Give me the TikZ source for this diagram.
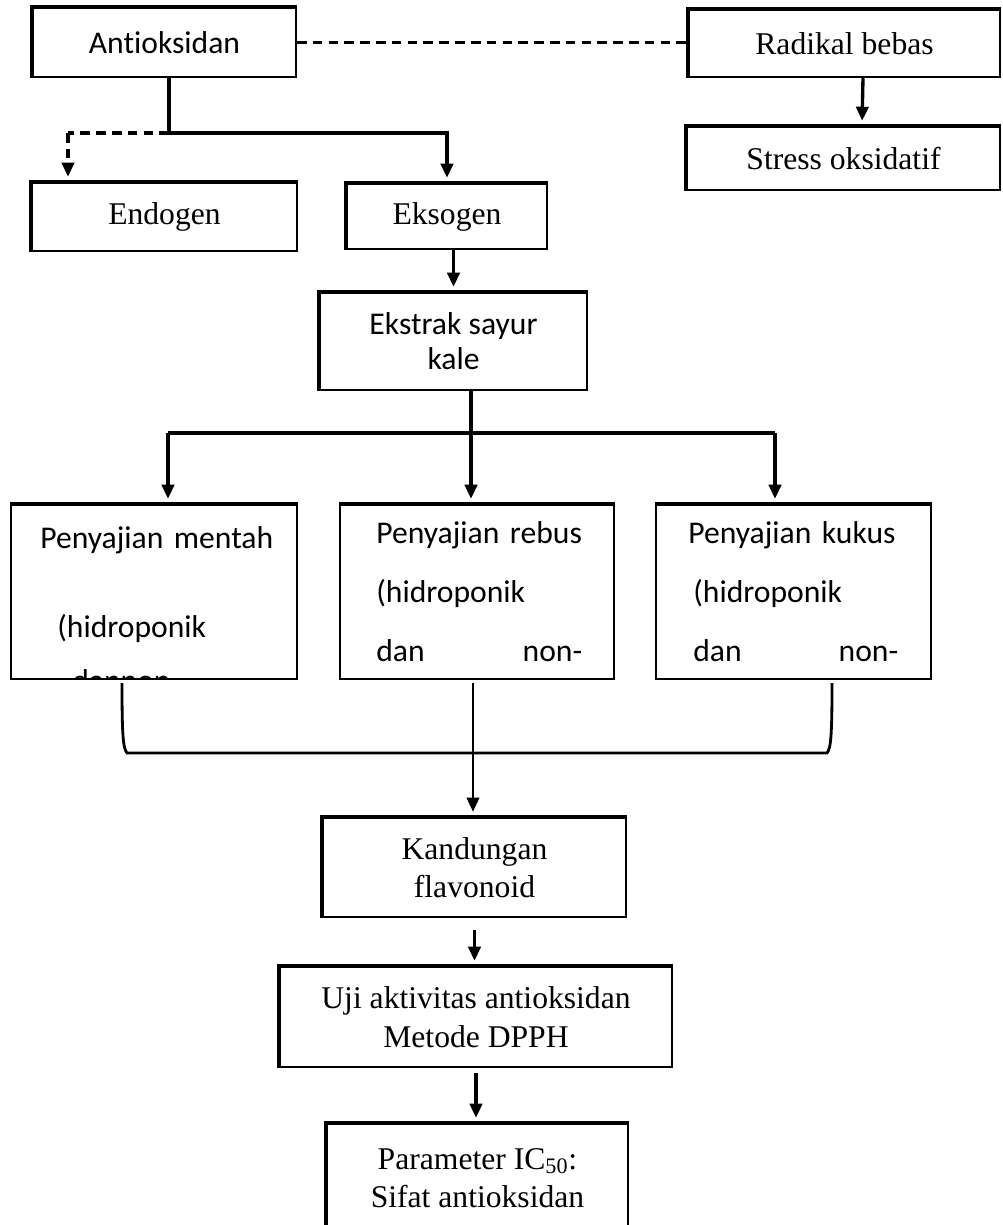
\documentclass[tikz,border=0pt]{standalone}
\usepackage{fontspec}
\setmainfont{Liberation Serif}
\newfontfamily\calibri[Ligatures=NoCommon]{Carlito}
\usetikzlibrary{arrows.meta}

\begin{document}
\begin{tikzpicture}[x=0.02cm,y=-0.02cm,
		kotak/.style={draw, line width=1.1pt, inner sep=0pt, align=center, font=\fontsize{18}{22}\selectfont,
			append after command={\pgfextra{\draw[line width=2.4pt] (\tikzlastnode.south west) -- (\tikzlastnode.north west) -- (\tikzlastnode.north east);}}},
		kotakatas/.style={draw, line width=1.1pt, inner sep=0pt,
			append after command={\pgfextra{\draw[line width=2.4pt] (\tikzlastnode.north west) -- (\tikzlastnode.north east);}}},
		isi/.style={anchor=north west, inner sep=0pt, align=left, font=\calibri\fontsize{18}{22}\selectfont},
		garis/.style={line width=1.9pt},
		putus/.style={line width=1.8pt, dash pattern=on 5.5pt off 3.5pt},
		panah/.style={-{Triangle[width=7pt,length=8pt]}, shorten >=3pt}]
		    	\clip (0,0) rectangle (1003,1225);
		    	\node[kotak, minimum width=5.26cm, minimum height=1.38cm, font=\calibri\fontsize{18}{22}\selectfont] (anti) at (164.5,42.5) {Antioksidan};
		    	\node[kotak, minimum width=6.22cm, minimum height=1.34cm] (radikal) at (844.5,43.5) {Radikal bebas};
		    	\node[kotak, minimum width=6.26cm, minimum height=1.26cm] (stress) at (843.5,158.5) {Stress oksidatif};
		    	\node[kotak, minimum width=5.3cm, minimum height=1.36cm] (endogen) at (164.5,217) {Endogen};
		    	\node[kotak, minimum width=4cm, minimum height=1.3cm] (eksogen) at (447,216.5) {Eksogen};
		    	\node[kotak, minimum width=5.34cm, minimum height=1.94cm, font=\calibri\fontsize{18}{20}\selectfont] (ekstrak) at (453.5,341.5) {Ekstrak sayur\\kale};
		    	\node[kotakatas, minimum width=5.72cm, minimum height=3.48cm] (mentah) at (154,592) {};
		    	\node[kotakatas, minimum width=5.48cm, minimum height=3.48cm] (rebus) at (477,592) {};
		    	\node[kotakatas, minimum width=5.5cm, minimum height=3.48cm] (kukus) at (793.5,592) {};
		    	\node[kotak, minimum width=6.06cm, minimum height=1.98cm] (kandungan) at (474.5,867.5) {Kandungan\\flavonoid};
		    	\node[kotak, minimum width=7.84cm, minimum height=2cm] (uji) at (476,1017) {Uji aktivitas antioksidan\\Metode DPPH};
		    	\node[kotak, minimum width=6.02cm, minimum height=2.16cm] (param) at (477.5,1178) {Parameter IC\textsubscript{50}:\\Sifat antioksidan};
		    	
		    	\begin{scope}
		    		\clip (mentah.south west) rectangle (mentah.north east);
		    		\node[isi, text width=5cm] (tmentah) at (40,526) {Penyajian mentah\\[28.6pt]\hspace*{0.34cm}(hidroponik\\[9pt]\hspace*{0.64cm}dannon};
		    	\end{scope}
		    	\begin{scope}
		    		\clip (rebus.south west) rectangle (rebus.north east);
		    		\node[isi, text width=4.16cm] (trebus) at (376,521) {Penyajian rebus\\[11.5pt](hidroponik\\[11.5pt]\makebox[4.12cm][l]{dan\hfill non-}};
		    	\end{scope}
		    	\begin{scope}
		    		\clip (kukus.south west) rectangle (kukus.north east);
		    		\node[isi, text width=4.24cm] (tkukus) at (688,521) {Penyajian kukus\\[11.5pt]\hspace*{0.1cm}(hidroponik\\[11.5pt]\hspace*{0.1cm}\makebox[4.1cm][l]{dan\hfill non-}};
		    	\end{scope}
		    	
		    	\coordinate (cab) at (169,133);
		    	\coordinate (kiri) at (68,133);
		    	\coordinate (cabang) at (471,433);
		    	\coordinate (ki) at (168,433);
		    	\coordinate (ka) at (775,433);
		    	\coordinate (bki) at (122,683);
		    	\coordinate (bka) at (832,683);
		    	\coordinate (bte) at (473,683);
		    	
		    	\draw[putus] (anti.east) -- (anti.east -| radikal.west);
		    	\draw[garis, panah] ([xshift=0.37cm]radikal.south) -- ([xshift=0.37cm]stress.north);
		    	\draw[garis] (cab |- anti.south) -- (cab);
		    	\draw[garis, panah] (cab) -| (eksogen.north);
		    	\draw[putus] (cab) -- (kiri);
		    	\draw[putus, panah] (kiri) -- (kiri |- endogen.north);
		    	\draw[garis, panah] (eksogen.south -| ekstrak.north) -- (ekstrak.north);
		    	\draw[garis] (ekstrak.south -| cabang) -- (cabang);
		    	\draw[garis] (ki) -- (ka);
		    	\draw[garis, panah] (ki) -- (ki |- mentah.north);
		    	\draw[garis, panah] (cabang) -- (cabang |- rebus.north);
		    	\draw[garis, panah] (ka) -- (ka |- kukus.north);
		    	\draw[line width=1.6pt] (bki) .. controls (122,735) and (123,748) .. (127,753) -- (827,753) .. controls (831,748) and (832,735) .. (bka);
		    	\draw[line width=1.5pt, panah] (bte) -- (bte |- kandungan.north);
		    	\draw[garis, panah, shorten <=7pt] (kandungan.south) -- (kandungan.south |- uji.north);
		    	\draw[garis, panah, shorten <=3pt] (uji.south) -- (uji.south |- param.north);
		    \end{tikzpicture}
\end{document}
